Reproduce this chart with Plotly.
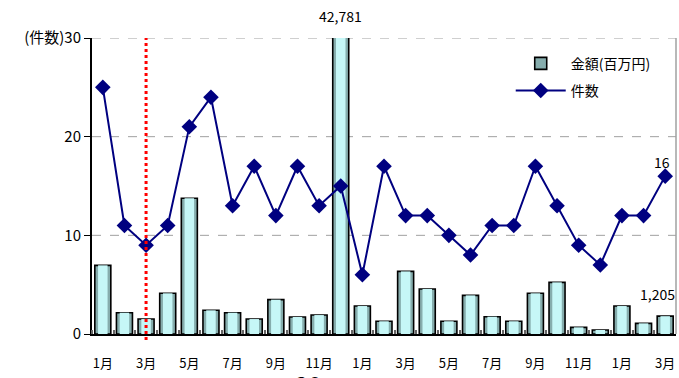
import plotly.graph_objects as go

months = ["1月","2月","3月","4月","5月","6月","7月","8月","9月","10月","11月","12月",
          "1月","2月","3月","4月","5月","6月","7月","8月","9月","10月","11月","12月",
          "1月","2月","3月"]
amount = [4640, 1440, 1010, 2750, 9170, 1600, 1440, 1010, 2320, 1150, 1280, 42781,
          1890, 860, 4230, 3040, 860, 2610, 1170, 860, 2750, 3490, 450, 270,
          1890, 720, 1205]
count = [25, 11, 9, 11, 21, 24, 13, 17, 12, 17, 13, 15,
         6, 17, 12, 12, 10, 8, 11, 11, 17, 13, 9, 7,
         12, 12, 16]
y_ticks = [0, 10, 20, 30]
y_ticktext = ["0", "10", "20", "(件数)30"]
marker_month_index = 2

xs = list(range(len(months)))
font = "Noto Sans CJK JP, Noto Sans, sans-serif"

fig = go.Figure()
fig.add_trace(go.Bar(x=xs, y=amount, width=0.74, name="金額(百万円)", legendgroup="a",
                     marker=dict(color="#86adad", line=dict(color="black", width=1.6)),
                     yaxis="y"))
fig.add_trace(go.Bar(x=xs, y=amount, width=0.44, showlegend=False, hoverinfo="skip",
                     marker=dict(color="#c6f7f7", line=dict(width=0)), yaxis="y"))
fig.add_trace(go.Scatter(x=xs, y=count, name="件数", mode="lines+markers", legendgroup="b",
                         line=dict(color="#000080", width=2),
                         marker=dict(symbol="diamond", size=12, color="#000080"),
                         yaxis="y2"))

shapes = []
for v in y_ticks[1:]:
    shapes.append(dict(type="line", xref="paper", x0=0, x1=1, yref="y2", y0=v, y1=v,
                       line=dict(color="#a0a0a0", width=1, dash="dash"), layer="below"))
shapes.append(dict(type="line", xref="x", x0=marker_month_index, x1=marker_month_index,
                   yref="paper", y0=-0.02, y1=1,
                   line=dict(color="#ff0000", width=3, dash="dot")))
shapes.append(dict(type="line", xref="paper", x0=1, x1=1, yref="paper", y0=0, y1=1,
                   line=dict(color="#a0a0a0", width=1.5)))

fig.update_layout(
    width=679, height=378,
    margin=dict(l=92, r=3, t=38, b=44),
    paper_bgcolor="white", plot_bgcolor="white",
    barmode="overlay",
    font=dict(family=font, size=13, color="black"),
    xaxis=dict(range=[-0.5, len(months) - 0.5], tickvals=xs[::2], ticktext=months[::2],
               showgrid=False, zeroline=False, showline=True, linecolor="black", linewidth=2,
               ticks="outside", ticklen=0, tickcolor="white", ticklabelstandoff=16,
               tickfont=dict(size=13),
               minor=dict(tickvals=[i - 0.5 for i in xs], ticks="inside", ticklen=4,
                          tickcolor="#666666", tickwidth=2)),
    yaxis=dict(range=[0, 20000], visible=False, showgrid=False, fixedrange=True),
    yaxis2=dict(range=[0, 30], overlaying="y", side="left", tickvals=y_ticks,
                ticktext=y_ticktext, showgrid=False, zeroline=False, showline=True,
                linecolor="black", linewidth=2, ticks="outside", ticklen=6,
                tickcolor="black", tickfont=dict(size=15)),
    legend=dict(x=0.717, y=0.967, xanchor="left", yanchor="top", bgcolor="rgba(0,0,0,0)",
                font=dict(size=14), itemwidth=50, tracegroupgap=6),
    shapes=shapes,
    annotations=[
        dict(x=11, y=1.0, xref="x", yref="paper", yanchor="middle", yshift=22,
             text="42,781", showarrow=False, font=dict(size=14)),
        dict(x=len(months) - 1, y=count[-1], xref="x", yref="y2", yanchor="middle",
             yshift=14, xshift=-3, text=str(count[-1]), showarrow=False, font=dict(size=14)),
        dict(x=len(months) - 1, y=amount[-1], xref="x", yref="y", yanchor="middle",
             yshift=22, xshift=-8, text=f"{amount[-1]:,}", showarrow=False,
             font=dict(size=14)),
        dict(x=0.37, y=-0.1, xref="paper", yref="paper", yanchor="top",
             text="20", showarrow=False, font=dict(size=24)),
    ],
)

fig.write_html("out.html", config={"displayModeBar": False},
               post_script="document.body.style.margin='0';document.body.style.overflow='hidden';")
